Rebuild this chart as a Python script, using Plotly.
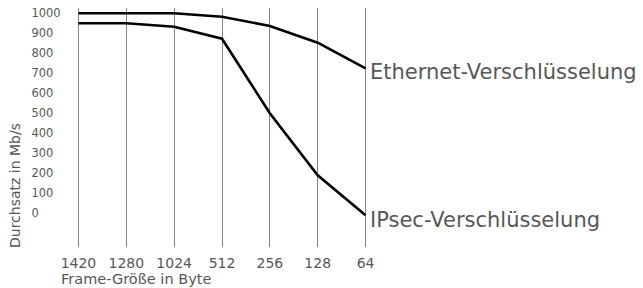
import plotly.graph_objects as go

frame_sizes = ["1420", "1280", "1024", "512", "256", "128", "64"]
ethernet = [1000, 1000, 1000, 983, 937, 853, 725]
ipsec = [950, 950, 933, 873, 500, 190, -10]
y_ticks = [0, 100, 200, 300, 400, 500, 600, 700, 800, 900, 1000]
series_names = ["Ethernet-Verschlüsselung", "IPsec-Verschlüsselung"]

FONT = "DejaVu Sans"
TXT = "#575757"

xi = list(range(len(frame_sizes)))

fig = go.Figure()
for vals, name in zip([ethernet, ipsec], series_names):
    fig.add_trace(go.Scatter(x=xi, y=vals, mode="lines", name=name,
                             line=dict(color="black", width=2.6),
                             cliponaxis=False, showlegend=False))

# pad y labels with figure spaces to get left-aligned look
maxlen = max(len(str(v)) for v in y_ticks)
ytext = [str(v) + "\u2007" * (maxlen - len(str(v))) for v in y_ticks]

W, H = 643, 288
l, r, t, b = 77, 276, 8, 41
pw, ph = W - l - r, H - t - b

def px(x):
    return (x - l) / pw

def py(y):
    return (H - b - y) / ph

fig.update_layout(
    width=W, height=H,
    margin=dict(l=l, r=r, t=t, b=b, autoexpand=False),
    paper_bgcolor="white", plot_bgcolor="white",
    font=dict(family=FONT, color=TXT),
    xaxis=dict(range=[-0.03, 6.03], tickvals=xi, ticktext=frame_sizes,
               showgrid=True, gridcolor="#858585", gridwidth=1.2,
               zeroline=False, showline=False, automargin=False,
               ticks="outside", ticklen=3, tickcolor="rgba(0,0,0,0)",
               tickfont=dict(size=14, color=TXT)),
    yaxis=dict(range=[-168.5, 1026.5], tickvals=y_ticks, ticktext=ytext,
               showgrid=False, zeroline=False, showline=False, automargin=False,
               ticks="outside", ticklen=13, tickcolor="rgba(0,0,0,0)",
               tickfont=dict(size=11.5, color=TXT)),
    annotations=[
        dict(x=6, y=ethernet[-1], xref="x", yref="y", text=series_names[0],
             xanchor="left", yanchor="middle", xshift=2, yshift=-4,
             showarrow=False, font=dict(size=21, color=TXT, family=FONT)),
        dict(x=6, y=ipsec[-1], xref="x", yref="y", text=series_names[1],
             xanchor="left", yanchor="middle", xshift=2, yshift=-5,
             showarrow=False, font=dict(size=21, color=TXT, family=FONT)),
        dict(x=px(15), y=py(186), xref="paper", yref="paper",
             text="Durchsatz in Mb/s", textangle=-90,
             xanchor="center", yanchor="middle", showarrow=False,
             font=dict(size=14, color=TXT, family=FONT)),
        dict(x=px(59), y=py(279), xref="paper", yref="paper",
             text="Frame-Größe in Byte",
             xanchor="left", yanchor="middle", showarrow=False,
             font=dict(size=14.5, color=TXT, family=FONT)),
    ],
)

fig.write_html("out.html", config={"displayModeBar": False},
               post_script="document.body.style.margin='0px';")
